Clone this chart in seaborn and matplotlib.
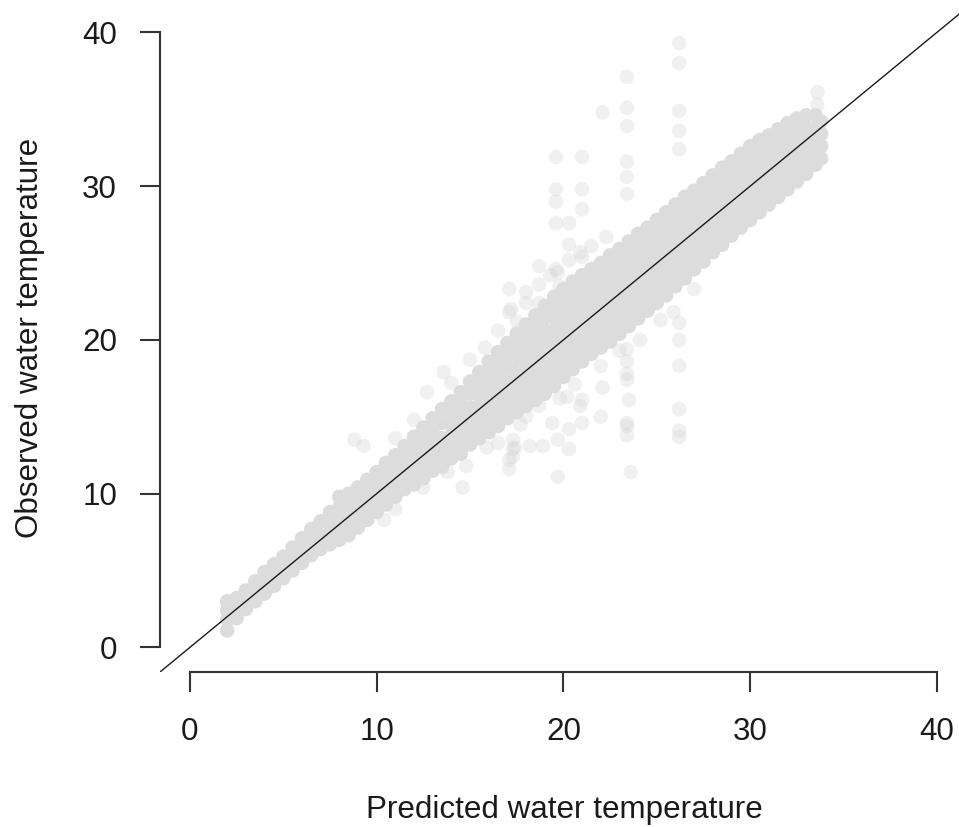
import matplotlib
matplotlib.use("Agg")
import matplotlib.pyplot as plt
import seaborn as sns
import pandas as pd

# ---- data ----
# dense band: predicted value of each column and observed values in that column
core_x = [2.0, 2.5, 3.0, 3.5, 4.0, 4.5, 5.0, 5.5, 6.0, 6.5, 7.0, 7.5, 8.0, 8.5,
          9.0, 9.5, 10.0, 10.5, 11.0, 11.5, 12.0, 12.5, 13.0, 13.5, 14.0, 14.5,
          15.0, 15.5, 16.0, 16.5, 17.0, 17.5, 18.0, 18.5, 19.0, 19.5, 20.0, 20.5,
          21.0, 21.5, 22.0, 22.5, 23.0, 23.5, 24.0, 24.5, 25.0, 25.5, 26.0, 26.5,
          27.0, 27.5, 28.0, 28.5, 29.0, 29.5, 30.0, 30.5, 31.0, 31.5, 32.0, 32.5,
          33.0, 33.5, 33.8]
core_obs = [
    [1.1, 1.8, 2.4, 3.0],
    [1.9, 2.6, 3.2],
    [2.5, 3.1, 3.7],
    [3.0, 3.7, 4.3],
    [3.5, 4.2, 4.9],
    [4.0, 4.7, 5.4],
    [4.5, 5.2, 5.9],
    [5.0, 5.75, 6.5],
    [5.5, 6.3, 7.1],
    [6.0, 6.8, 7.7],
    [6.4, 7.3, 8.2],
    [6.7, 7.4, 8.1, 8.8],
    [7.0, 7.7, 8.4, 9.1, 9.8],
    [7.3, 8.0, 8.7, 9.4, 10.0],
    [7.8, 8.5, 9.2, 9.8, 10.4],
    [8.3, 9.0, 9.6, 10.3, 10.9],
    [8.8, 9.5, 10.1, 10.8, 11.4],
    [9.3, 10.0, 10.6, 11.3, 12.0],
    [9.8, 10.5, 11.2, 11.8, 12.5],
    [10.3, 11.0, 11.7, 12.4, 13.1],
    [10.6, 11.4, 12.2, 12.9, 13.7],
    [11.0, 11.8, 12.6, 13.5, 14.3],
    [11.5, 12.3, 13.2, 14.0, 14.9],
    [11.8, 12.7, 13.6, 14.6, 15.5],
    [12.3, 13.0, 13.8, 14.5, 15.3, 16.0],
    [12.6, 13.4, 14.2, 15.0, 15.8, 16.6],
    [13.2, 14.0, 14.8, 15.6, 16.5, 17.3],
    [13.6, 14.3, 15.0, 15.7, 16.4, 17.1, 17.9],
    [14.0, 14.75, 15.5, 16.3, 17.0, 17.8, 18.6],
    [14.4, 15.2, 16.0, 16.8, 17.6, 18.4, 19.2],
    [14.9, 15.7, 16.5, 17.3, 18.2, 19.0, 19.8],
    [15.3, 16.0, 16.8, 17.5, 18.2, 19.0, 19.7, 20.4],
    [15.7, 16.45, 17.2, 18.0, 18.7, 19.5, 20.2, 21.0],
    [16.1, 16.9, 17.7, 18.5, 19.2, 20.0, 20.8, 21.6],
    [16.5, 17.3, 18.1, 18.9, 19.8, 20.6, 21.4, 22.2],
    [17.0, 17.7, 18.4, 19.2, 19.9, 20.6, 21.4, 22.1, 22.8],
    [17.6, 18.3, 19.0, 19.8, 20.5, 21.2, 21.9, 22.6, 23.3],
    [18.1, 18.8, 19.5, 20.3, 21.0, 21.7, 22.4, 23.1, 23.8],
    [18.6, 19.3, 20.0, 20.7, 21.4, 22.1, 22.8, 23.5, 24.2],
    [19.1, 19.8, 20.5, 21.2, 21.9, 22.5, 23.2, 23.9, 24.6],
    [19.5, 20.2, 20.9, 21.6, 22.3, 22.9, 23.6, 24.3, 25.0],
    [19.9, 20.6, 21.3, 22.0, 22.7, 23.4, 24.1, 24.8, 25.5],
    [20.4, 21.1, 21.8, 22.5, 23.2, 23.8, 24.5, 25.2, 25.9],
    [20.9, 21.6, 22.3, 23.0, 23.7, 24.3, 25.0, 25.7, 26.4],
    [21.4, 22.1, 22.8, 23.5, 24.2, 24.8, 25.5, 26.2, 26.9],
    [21.9, 22.6, 23.3, 23.9, 24.6, 25.3, 26.0, 26.6, 27.3],
    [22.4, 23.1, 23.8, 24.4, 25.1, 25.8, 26.4, 27.1, 27.8],
    [22.9, 23.6, 24.3, 24.9, 25.6, 26.3, 26.9, 27.6, 28.3],
    [23.5, 24.2, 24.8, 25.5, 26.2, 26.8, 27.5, 28.1, 28.8],
    [24.0, 24.7, 25.3, 26.0, 26.7, 27.3, 28.0, 28.6, 29.3],
    [24.6, 25.3, 26.0, 26.7, 27.5, 28.2, 29.0, 29.7],
    [25.1, 25.8, 26.5, 27.2, 28.0, 28.7, 29.5, 30.2],
    [25.7, 26.4, 27.1, 27.8, 28.6, 29.3, 30.0, 30.7],
    [26.2, 26.9, 27.6, 28.3, 29.1, 29.8, 30.5, 31.2],
    [26.8, 27.5, 28.2, 28.9, 29.5, 30.2, 30.9, 31.6],
    [27.3, 28.0, 28.7, 29.4, 30.0, 30.7, 31.4, 32.1],
    [27.8, 28.5, 29.2, 29.9, 30.5, 31.2, 31.9, 32.6],
    [28.3, 29.0, 29.7, 30.3, 31.0, 31.7, 32.3, 33.0],
    [28.8, 29.5, 30.3, 31.0, 31.8, 32.5, 33.3],
    [29.3, 30.0, 30.8, 31.5, 32.2, 33.0, 33.7],
    [29.8, 30.5, 31.2, 32.0, 32.7, 33.4, 34.1],
    [30.3, 31.0, 31.7, 32.4, 33.0, 33.7, 34.4],
    [30.8, 31.6, 32.3, 33.1, 33.8, 34.6],
    [31.4, 32.2, 33.0, 33.8, 34.6],
    [31.8, 32.6, 33.4, 34.2],
]

# sparse points around the band and outlier columns
sparse_pred = [14.0, 15.0, 15.8, 16.5, 17.1, 17.1, 17.5, 18.0, 18.0, 18.7, 18.7,
               19.3, 19.7, 20.3, 20.9, 21.5, 22.3, 12.7, 13.6, 8.8, 9.3, 11.0, 12.0,
               17.2, 18.7, 19.8,
               13.8, 14.6, 14.8, 15.9, 16.5, 17.1, 17.1, 17.3, 17.3, 17.7, 18.0,
               18.2, 18.7, 18.9, 19.4, 19.7, 19.7, 19.8, 20.2, 20.3, 20.3, 20.6,
               20.9, 21.0, 21.0, 22.0, 22.1, 22.0, 23.0, 24.1, 25.2, 25.9, 27.0,
               10.4, 11.0, 12.5, 13.5, 17.3, 17.4,
               23.4, 23.4, 23.4, 23.4, 23.4, 23.4, 23.4, 23.4, 23.4, 23.5, 23.4,
               23.4, 23.4, 23.6, 23.4,
               26.2, 26.2, 26.2, 26.2, 26.2, 26.2, 26.2, 26.2, 26.2, 26.2, 26.2,
               19.6, 19.6, 19.6, 19.6, 19.6, 21.0, 21.0, 21.0, 21.0, 20.3, 20.3,
               22.1, 33.6, 33.6]
sparse_obs = [17.2, 18.7, 19.5, 20.6, 21.8, 23.3, 21.2, 23.1, 22.4, 24.8, 23.6,
              24.2, 24.4, 25.2, 25.7, 26.1, 26.7, 16.6, 17.9, 13.5, 13.1, 13.6, 14.8,
              22.0, 22.4, 23.5,
              11.4, 10.4, 11.8, 13.0, 13.3, 12.2, 11.6, 12.9, 13.5, 14.5, 15.0,
              13.1, 15.7, 13.1, 14.6, 13.5, 11.1, 16.2, 16.3, 12.9, 14.2, 17.1,
              15.7, 14.6, 16.1, 15.0, 16.9, 18.3, 19.3, 20.0, 21.3, 21.8, 23.3,
              8.3, 9.0, 10.4, 11.7, 12.4, 13.0,
              37.1, 35.1, 33.9, 31.6, 30.6, 29.5, 18.6, 17.8, 17.4, 16.1, 14.6,
              14.4, 13.8, 11.4, 19.4,
              39.3, 38.0, 34.9, 33.6, 32.4, 21.1, 20.0, 18.3, 15.5, 14.1, 13.7,
              31.9, 29.8, 29.0, 27.6, 24.6, 31.9, 29.8, 28.5, 25.4, 27.6, 26.2,
              34.8, 36.1, 35.3]

tick_vals = [0, 10, 20, 30, 40]
x_label = "Predicted water temperature"
y_label = "Observed water temperature"

# ---- build tables ----
core_pred_flat, core_obs_flat = [], []
for px, col in zip(core_x, core_obs):
    for v in col:
        core_pred_flat.append(px)
        core_obs_flat.append(v)
core_df = pd.DataFrame({"pred": core_pred_flat, "obs": core_obs_flat})
sparse_df = pd.DataFrame({"pred": sparse_pred, "obs": sparse_obs})

sns.set_style("white")
plt.rcParams["font.family"] = ["Liberation Sans", "DejaVu Sans"]

fig = plt.figure(figsize=(9.59, 8.27), dpi=100)
ax = fig.add_axes([160 / 959, (827 - 672) / 827, 806.8 / 959, 664.2 / 827])
ax.set_facecolor("white")

sns.scatterplot(data=sparse_df, x="pred", y="obs", ax=ax, color="#d2d2d2",
                alpha=0.32, s=110, edgecolor="none", linewidth=0, legend=False)
sns.scatterplot(data=core_df, x="pred", y="obs", ax=ax, color="#dcdcdc",
                alpha=1.0, s=110, edgecolor="none", linewidth=0, legend=False)

ax.axline((0, 0), (1, 1), color="#1a1a1a", lw=1.0, zorder=5)

ax.set_xlim(-1.6, 41.6)
ax.set_ylim(-1.6, 41.6)
ax.set_xticks(tick_vals)
ax.set_yticks(tick_vals)
ax.set_xticklabels([str(t) for t in tick_vals])
ax.set_yticklabels([str(t) for t in tick_vals])
ax.set_xlabel("")
ax.set_ylabel("")

for s in ["top", "right"]:
    ax.spines[s].set_visible(False)
for s in ["left", "bottom"]:
    ax.spines[s].set_visible(True)
    ax.spines[s].set_color("#333333")
    ax.spines[s].set_linewidth(1.5)
    ax.spines[s].set_bounds(0, 40)

ax.tick_params(axis="both", direction="out", length=14.4, width=1.5,
               color="#333333", labelsize=22.6, labelcolor="#1a1a1a")
ax.tick_params(axis="x", pad=18, bottom=True)
ax.tick_params(axis="y", pad=16.5, left=True)

fig.text(564 / 959, 1 - 818 / 827, x_label, ha="center", va="baseline",
         fontsize=22.6, color="#1a1a1a")
fig.text(30 / 959, 1 - 338 / 827, y_label, ha="center", va="center",
         rotation=90, fontsize=22.6, color="#1a1a1a")

fig.savefig("out.png", dpi=100, facecolor="white")
